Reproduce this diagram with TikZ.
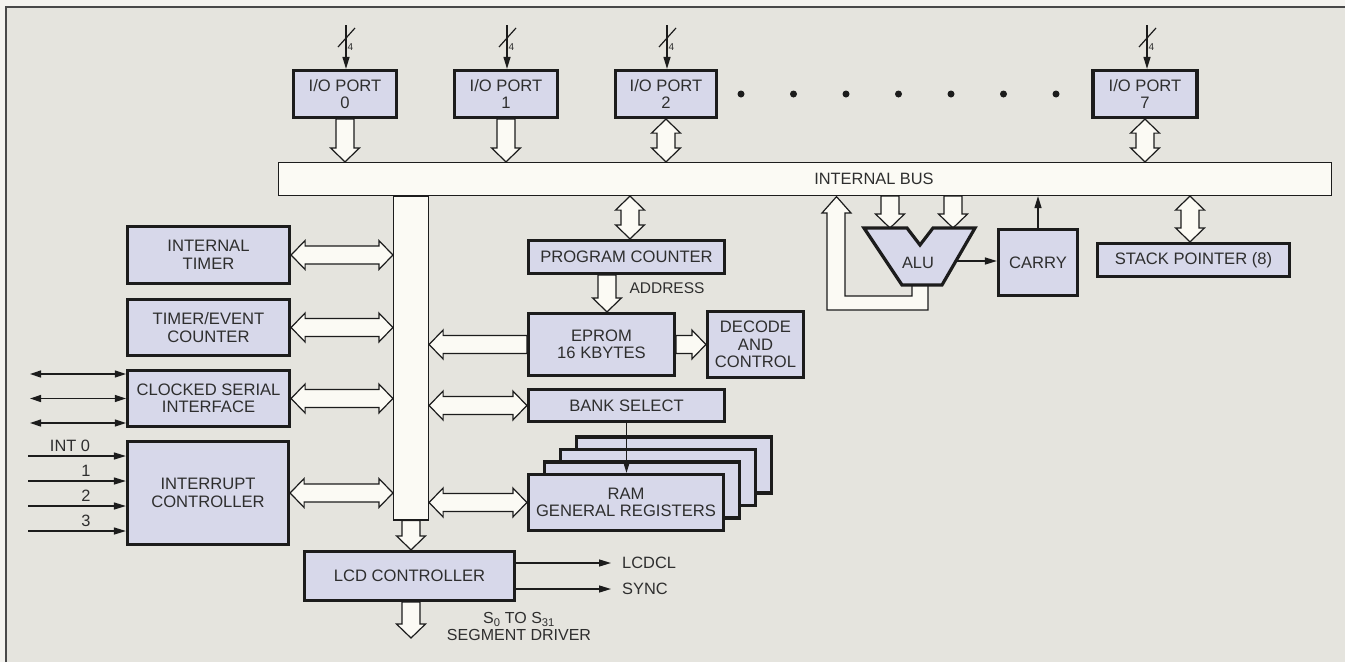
\documentclass[tikz,border=0pt]{standalone}
\usepackage{fontspec}
\setmainfont{Liberation Sans}
\usetikzlibrary{calc,arrows.meta}
\definecolor{bg}{HTML}{E5E4DE}
\definecolor{margin}{HTML}{F4F3EF}
\definecolor{boxfill}{HTML}{D7D8EA}
\definecolor{busfill}{HTML}{FBFAF4}
\definecolor{ink}{HTML}{1C1C1C}
\definecolor{txt}{HTML}{2E2E2E}
\pgfdeclarelayer{bglayer}
\pgfdeclarelayer{arrowlayer}
\pgfsetlayers{bglayer,arrowlayer,main}

\newcommand\fatone[2]{%
  \path (#1) coordinate (fa) (#2) coordinate (fb);
  \coordinate (fh) at ($(fb)!14pt!(fa)$);
  \draw[fat] ($(fa)!9pt!90:(fb)$) -- ($(fh)!9pt!90:(fb)$) -- ($(fh)!14.5pt!90:(fb)$) -- (fb)
    -- ($(fh)!14.5pt!-90:(fb)$) -- ($(fh)!9pt!-90:(fb)$) -- ($(fa)!9pt!-90:(fb)$) -- cycle;}
\newcommand\fattwo[2]{%
  \path (#1) coordinate (fa) (#2) coordinate (fb);
  \coordinate (fh) at ($(fb)!14pt!(fa)$);
  \coordinate (fg) at ($(fa)!14pt!(fb)$);
  \draw[fat] (fa) -- ($(fg)!14.5pt!90:(fb)$) -- ($(fg)!9pt!90:(fb)$) -- ($(fh)!9pt!90:(fb)$)
    -- ($(fh)!14.5pt!90:(fb)$) -- (fb) -- ($(fh)!14.5pt!-90:(fb)$) -- ($(fh)!9pt!-90:(fb)$)
    -- ($(fg)!9pt!-90:(fb)$) -- ($(fg)!14.5pt!-90:(fb)$) -- cycle;}

\tikzset{
  box/.style={draw=ink, line width=3.2pt, fill=boxfill, inner sep=0pt, align=center,
    text=txt, font=\fontsize{16.6}{17.5}\selectfont},
  busbox/.style={draw=ink, line width=1.2pt, fill=busfill, inner sep=0pt},
  fat/.style={draw=ink, line width=1.2pt, fill=busfill, line join=miter},
  thinarrow/.style={draw=ink, line width=1.3pt, -{Triangle[length=12pt,width=7pt]}},
  thintwo/.style={draw=ink, line width=1.3pt, {Triangle[length=11pt,width=7pt]}-{Triangle[length=11pt,width=7pt]}},
  lbl/.style={inner sep=0pt, text=txt, font=\fontsize{16.4}{17}\selectfont, align=center},
  small/.style={inner sep=0pt, text=txt, font=\fontsize{10}{10}\selectfont},
  dotn/.style={circle, fill=ink, minimum size=7pt, inner sep=0pt},
}

\begin{document}
\begin{tikzpicture}[x=1pt, y=-1pt]
\useasboundingbox (0,0) rectangle (1345,662);
\begin{pgfonlayer}{bglayer}
  \fill[margin] (0,0) rectangle (1345,662);
  \fill[bg] (6,7) rectangle (1345,662);
  \draw[ink!80, line width=1.5pt] (6,662) -- (6,7) -- (1345,7);
\end{pgfonlayer}

% I/O ports
\node[box, minimum width=103, minimum height=47] (io0) at (345,94) {I/O PORT\\0};
\node[box, minimum width=103, minimum height=47] (io1) at (506,94) {I/O PORT\\1};
\node[box, minimum width=101, minimum height=47] (io2) at (666,94) {I/O PORT\\2};
\node[box, minimum width=104, minimum height=47] (io7) at (1145,94) {I/O PORT\\7};
\foreach \i/\x in {1/741,2/793.5,3/846,4/898.5,5/951,6/1003.5,7/1056}
  \node[dotn] (d\i) at (\x,94) {};

% buses
\node[busbox, minimum width=35, minimum height=324] (vbus) at (411,358) {};
\node[busbox, minimum width=1053, minimum height=33] (bus) at (805,179) {};
\node[lbl] (busl) at (874,179) {INTERNAL BUS};

% left column
\node[box, minimum width=162, minimum height=57] (timer) at (208.5,255) {INTERNAL\\TIMER};
\node[box, minimum width=162, minimum height=56] (counter) at (208.5,327.5) {TIMER/EVENT\\COUNTER};
\node[box, minimum width=162, minimum height=56] (csi) at (208.5,398.5) {CLOCKED SERIAL\\INTERFACE};
\node[box, minimum width=161, minimum height=103] (intc) at (208,493) {INTERRUPT\\CONTROLLER};

% middle column
\node[box, minimum width=196, minimum height=33] (pc) at (626.5,257) {PROGRAM COUNTER};
\node[box, minimum width=146, minimum height=62] (eprom) at (601.5,344.5) {EPROM\\16 KBYTES};
\node[box, minimum width=96, minimum height=66] (decode) at (755.5,344.5) {DECODE\\AND\\CONTROL};
\node[box, minimum width=196, minimum height=32] (bank) at (626.5,405.5) {BANK SELECT};
\node[box, minimum width=195, minimum height=56] (ramC) at (674,465) {};
\node[box, minimum width=195, minimum height=56] (ramB) at (658,477.5) {};
\node[box, minimum width=195, minimum height=56] (ramA) at (642,490) {};
\node[box, minimum width=195, minimum height=56] (ram) at (626,502.5) {RAM\\GENERAL REGISTERS};
\node[box, minimum width=210, minimum height=49] (lcd) at (409.5,576) {LCD CONTROLLER};

% right side
\node[box, minimum width=79, minimum height=66] (carry) at (1038,262.5) {CARRY};
\node[box, minimum width=192, minimum height=33] (sp) at (1193.5,260) {STACK POINTER (8)};
\draw[draw=ink, line width=3.2pt, fill=boxfill, line join=miter]
  (864,228) -- (907,228) -- (920,245) -- (933,228) -- (975,228) -- (942,285) -- (902,285) -- cycle;
\node[lbl] (alu) at (918,263) {ALU};

% labels
\node[lbl, font=\fontsize{15.5}{16}\selectfont] (addr) at (667,288) {ADDRESS};
\node[lbl, anchor=west] (lcdcl) at (622,563) {LCDCL};
\node[lbl, anchor=west] (sync) at (622,589) {SYNC};
\node[lbl, font=\fontsize{16}{17}\selectfont] (seglbl) at (519,626.5) {S\textsubscript{0} TO S\textsubscript{31}\\SEGMENT DRIVER};
\node[lbl] (i0) at (70,446) {INT 0};
\node[lbl] (i1) at (86,471) {1};
\node[lbl] (i2) at (86,496) {2};
\node[lbl] (i3) at (86,521) {3};

% fat connectors (behind boxes)
\begin{pgfonlayer}{arrowlayer}
  \fatone{io0.south}{io0.south |- bus.north}
  \fatone{io1.south}{io1.south |- bus.north}
  \fattwo{io2.south}{io2.south |- bus.north}
  \fattwo{io7.south}{io7.south |- bus.north}
  \coordinate (pcbus) at (630,257);
  \fattwo{pcbus |- bus.south}{pcbus |- pc.north}
  \coordinate (pcout) at (607,257);
  \fatone{pcout |- pc.south}{pcout |- eprom.north}
  \fatone{eprom.east}{decode.west}
  \fatone{eprom.west}{vbus.east |- eprom.west}
  \fattwo{timer.east}{vbus.west |- timer.east}
  \fattwo{counter.east}{vbus.west |- counter.east}
  \fattwo{csi.east}{vbus.west |- csi.east}
  \fattwo{intc.east}{vbus.west |- intc.east}
  \fattwo{vbus.east |- bank.west}{bank.west}
  \fattwo{vbus.east |- ram.west}{ram.west}
  \fatone{vbus.south}{vbus.south |- lcd.north}
  \coordinate (segout) at (411,638);
  \fatone{segout |- lcd.south}{segout}
  \coordinate (alua) at (890,228);
  \coordinate (alub) at (953,228);
  \fatone{alua |- bus.south}{alua}
  \fatone{alub |- bus.south}{alub}
  \coordinate (spc) at (1190,260);
  \fattwo{spc |- bus.south}{spc |- sp.north}
  % ALU result back to bus
  \draw[fat] (928,283) -- (928,310) -- (827,310) -- (827,213) -- (822,213) -- (836.5,196.6)
    -- (851,213) -- (845,213) -- (845,296) -- (912,296) -- (912,283);
\end{pgfonlayer}

% thin connectors
\foreach \n/\x in {0/346,1/507,2/667,7/1147}{
  \coordinate (in\n) at (\x,25);
  \draw[thinarrow] (in\n) -- (in\n |- io\n.north);
  \draw[ink, line width=1.2pt] ($(in\n)+(-8,22)$) -- ($(in\n)+(9,3)$);
  \node[small] (four\n) at ($(in\n)+(4.5,22)$) {4};
}
\foreach \k/\dy in {1/-24.5,2/0,3/24.5}{
  \coordinate (csl\k) at (30,398.5+\dy);
  \draw[thintwo] (csl\k) -- (csl\k -| csi.west);
}
\foreach \k/\yy in {0/456,1/481,2/506,3/531}{
  \coordinate (irq\k) at (28,\yy);
  \draw[thinarrow] (irq\k) -- (irq\k -| intc.west);
}
\draw[thinarrow] (bank.south) -- (bank.south |- ram.north);
\coordinate (aluout) at (956,261);
\draw[thinarrow] (aluout) -- (aluout -| carry.west);
\draw[thinarrow] (carry.north) -- (carry.north |- bus.south);
\draw[thinarrow] (lcd.east |- lcdcl.west) -- ([xshift=-11pt]lcdcl.west);
\draw[thinarrow] (lcd.east |- sync.west) -- ([xshift=-11pt]sync.west);
\end{tikzpicture}
\end{document}
